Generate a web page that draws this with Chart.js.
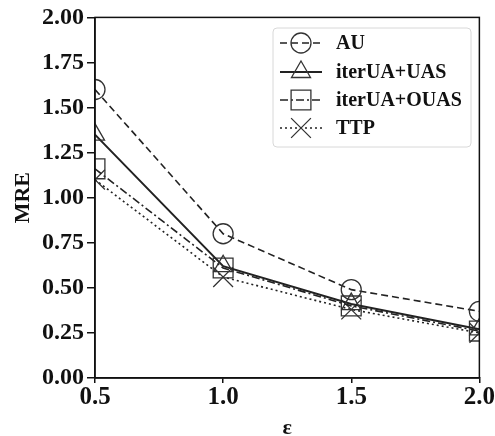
<!DOCTYPE html>
<html>
<head>
<meta charset="utf-8">
<script src="https://cdn.jsdelivr.net/npm/chart.js@4/dist/chart.umd.min.js"></script>
<style>
  html, body { margin: 0; padding: 0; background: #fff; }
  #wrap { width: 495px; height: 436px; }
</style>
</head>
<body>
<div id="wrap"><canvas id="chartMre"></canvas></div>
<script>
const epsilons = [0.5, 1.0, 1.5, 2.0];
const seriesNames = ["AU", "iterUA+UAS", "iterUA+OUAS", "TTP"];
const auValues = [1.60, 0.80, 0.49, 0.37];
const uasValues = [1.35, 0.62, 0.41, 0.27];
const ouasValues = [1.16, 0.61, 0.40, 0.26];
const ttpValues = [1.10, 0.56, 0.38, 0.25];
const yTicks = [0, 0.25, 0.5, 0.75, 1.0, 1.25, 1.5, 1.75, 2.0];
const xTicks = [0.5, 1.0, 1.5, 2.0];

const serif = "'Liberation Serif', 'DejaVu Serif', serif";

function pts(values) {
    return epsilons.map((e, i) => ({ x: e, y: values[i] }));
}

function makeSet(label, values, style, radius, dash, width) {
    return {
        label: label,
        data: pts(values),
        borderColor: '#222',
        borderWidth: width,
        borderDash: dash,
        pointStyle: style,
        pointRadius: radius,
        pointHoverRadius: radius,
        pointBorderColor: '#333',
        pointBackgroundColor: 'rgba(0,0,0,0)',
        pointBorderWidth: 1.3,
        clip: 0,
        tension: 0
    };
}

const datasets = [
    makeSet(seriesNames[0], auValues, 'circle', 10, [7, 4], 1.6),
    makeSet(seriesNames[1], uasValues, 'triangle', 11, [], 2),
    makeSet(seriesNames[2], ouasValues, 'rect', 14, [8, 3, 2, 3], 1.6),
    makeSet(seriesNames[3], ttpValues, 'crossRot', 14, [2, 3], 1.6)
];

// frame + legend drawn inside the plot like the original figure
const framePlugin = {
    id: 'frameAndLegend',
    afterDatasetsDraw(chart) {
        const ctx = chart.ctx;
        const a = chart.chartArea;
        ctx.save();
        ctx.strokeStyle = '#111';
        ctx.lineWidth = 1.5;
        ctx.setLineDash([]);
        ctx.strokeRect(a.left, a.top, a.right - a.left, a.bottom - a.top);

        // legend box
        const bx = 273, by = 28, bw = 198, bh = 119;
        ctx.beginPath();
        ctx.roundRect(bx, by, bw, bh, 4);
        ctx.fillStyle = 'rgba(255,255,255,0.9)';
        ctx.fill();
        ctx.strokeStyle = '#d8d8d8';
        ctx.lineWidth = 1;
        ctx.stroke();

        const rows = [43, 72, 100, 128];
        chart.data.datasets.forEach((ds, i) => {
            const y = rows[i];
            ctx.strokeStyle = ds.borderColor;
            ctx.lineWidth = ds.borderWidth;
            ctx.setLineDash(ds.borderDash);
            ctx.beginPath();
            ctx.moveTo(280, y);
            ctx.lineTo(322, y);
            ctx.stroke();
            ctx.setLineDash([]);
            ctx.strokeStyle = ds.pointBorderColor;
            ctx.fillStyle = ds.pointBackgroundColor;
            ctx.lineWidth = ds.pointBorderWidth;
            Chart.helpers.drawPoint(ctx, {
                pointStyle: ds.pointStyle,
                radius: ds.pointRadius,
                rotation: 0,
                borderWidth: ds.pointBorderWidth
            }, 301, y);
            ctx.fillStyle = '#111';
            ctx.font = "bold 20px " + serif;
            ctx.textAlign = 'left';
            ctx.textBaseline = 'middle';
            ctx.fillText(ds.label, 336, y + 1);
        });
        ctx.restore();
    }
};

new Chart(document.getElementById('chartMre'), {
    type: 'line',
    data: { datasets: datasets },
    plugins: [framePlugin],
    options: {
        responsive: true,
        maintainAspectRatio: false,
        animation: false,
        layout: { padding: { top: 17, right: 14, left: 0, bottom: 0 } },
        plugins: {
            legend: { display: false },
            tooltip: { enabled: false }
        },
        scales: {
            x: {
                type: 'linear',
                min: 0.5,
                max: 2.0,
                afterBuildTicks: s => { s.ticks = xTicks.map(v => ({ value: v })); },
                afterFit: s => { s.height = 58; },
                ticks: {
                    color: '#111',
                    font: { family: serif, size: 25, weight: 'bold' },
                    padding: 0,
                    maxRotation: 0,
                    callback: v => v.toFixed(1)
                },
                grid: { drawOnChartArea: false, drawTicks: true, tickLength: 5, color: '#111', lineWidth: 1.5 },
                border: { color: '#111', width: 1.5 },
                title: {
                    display: true,
                    text: 'ε',
                    color: '#111',
                    font: { family: serif, size: 22, weight: 'bold' },
                    padding: { top: 0, bottom: -6 }
                }
            },
            y: {
                min: 0,
                max: 2.0,
                afterBuildTicks: s => { s.ticks = yTicks.map(v => ({ value: v })); },
                afterFit: s => { s.width = 95; },
                ticks: {
                    color: '#111',
                    font: { family: serif, size: 24, weight: 'bold' },
                    padding: 3,
                    callback: v => v.toFixed(2)
                },
                grid: { drawOnChartArea: false, drawTicks: true, tickLength: 8, color: '#111', lineWidth: 1.5 },
                border: { color: '#111', width: 1.5 },
                title: {
                    display: true,
                    text: 'MRE',
                    color: '#111',
                    font: { family: serif, size: 22, weight: 'bold' },
                    padding: { top: 10, bottom: 0 }
                }
            }
        }
    }
});
</script>
</body>
</html>
